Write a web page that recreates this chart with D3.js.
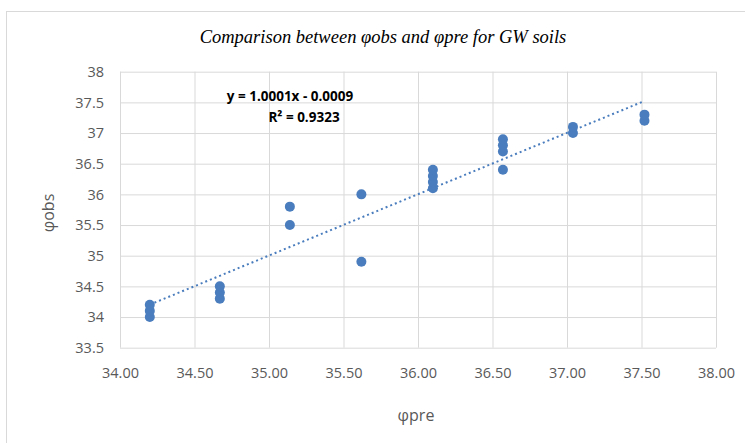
<!DOCTYPE html>
<html><head><meta charset="utf-8">
<script src="https://cdn.jsdelivr.net/npm/d3@7"></script>
<style>body{margin:0;background:#fff;}svg{display:block;}</style>
</head><body>
<svg id="c" width="745" height="443"></svg>
<script>
const title = "Comparison between φobs and φpre for GW soils";
const xLabel = "φpre";
const yLabel = "φobs";
const phiPre = [34.2,34.2,34.2, 34.67,34.67,34.67, 35.14,35.14, 35.62,35.62, 36.1,36.1,36.1,36.1, 36.57,36.57,36.57,36.57, 37.04,37.04, 37.52,37.52];
const phiObs = [34.0,34.1,34.2, 34.3,34.4,34.5, 35.5,35.8, 34.9,36.0, 36.1,36.2,36.3,36.4, 36.4,36.7,36.8,36.9, 37.0,37.1, 37.2,37.3];
const xTicks = [34,34.5,35,35.5,36,36.5,37,37.5,38];
const yTicks = [33.5,34,34.5,35,35.5,36,36.5,37,37.5,38];
const trendSlope = 1.0001, trendIntercept = -0.0009, rSquared = 0.9323;
const eqText = "y = 1.0001x - 0.0009";
const r2Text = "R² = 0.9323";

const svg = d3.select("#c");
const L = 120, R = 716, T = 71.7, B = 347.7;
const x = d3.scaleLinear().domain([34,38]).range([L,R]);
const y = d3.scaleLinear().domain([33.5,38]).range([B,T]);

svg.append("rect").attr("x",6.5).attr("y",11.5).attr("width",760).attr("height",460)
  .attr("fill","#fff").attr("stroke","#d9d9d9").attr("stroke-width",1);

// grid
const gx = svg.append("g").attr("transform",`translate(0,${B})`)
  .call(d3.axisBottom(x).tickValues(xTicks).tickSize(-(B-T)).tickFormat(d3.format(".2f")).tickPadding(20));
gx.select(".domain").remove();
gx.selectAll(".tick line").attr("stroke","#d9d9d9");
gx.selectAll(".tick text").attr("fill","#595959").style("font-family","'Open Sans'").style("font-size","14.5px");

const gy = svg.append("g").attr("transform",`translate(${L},0)`)
  .call(d3.axisLeft(y).tickValues(yTicks).tickSize(-(R-L)).tickFormat(d3.format("")).tickPadding(16));
gy.select(".domain").remove();
gy.selectAll(".tick line").attr("stroke","#d9d9d9");
gy.selectAll(".tick text").attr("fill","#595959").style("font-family","'Open Sans'").style("font-size","14.5px");

// trendline
const xmin = d3.min(phiPre), xmax = d3.max(phiPre);
svg.append("line")
  .attr("x1",x(xmin)).attr("y1",y(trendSlope*xmin+trendIntercept))
  .attr("x2",x(xmax)).attr("y2",y(trendSlope*xmax+trendIntercept))
  .attr("stroke","#4a7dbd").attr("stroke-width",2).attr("stroke-dasharray","2,3");

// points
svg.append("g").selectAll("circle").data(phiPre.map((d,i)=>[d,phiObs[i]])).join("circle")
  .attr("cx",d=>x(d[0])).attr("cy",d=>y(d[1])).attr("r",5).attr("fill","#4a7dbd");

// title
svg.append("text").attr("x",383).attr("y",43).attr("text-anchor","middle")
  .style("font-family","'Liberation Serif'").style("font-style","italic").style("font-size","18.5px")
  .attr("fill","#000").text(title);

// equation
svg.append("text").attr("x",290).attr("y",101).attr("text-anchor","middle")
  .style("font-family","'Open Sans'").style("font-weight","bold").style("font-size","13.5px").attr("fill","#000").text(eqText);
svg.append("text").attr("x",304).attr("y",122).attr("text-anchor","middle")
  .style("font-family","'Open Sans'").style("font-weight","bold").style("font-size","13.5px").attr("fill","#000").text(r2Text);

// axis titles
svg.append("text").attr("x",416).attr("y",421).attr("text-anchor","middle")
  .style("font-family","'Open Sans'").style("font-size","16px").attr("fill","#595959").text(xLabel);
svg.append("text").attr("transform","translate(54,213) rotate(-90)").attr("text-anchor","middle")
  .style("font-family","'Open Sans'").style("font-size","16px").attr("fill","#595959").text(yLabel);
</script>
</body></html>
